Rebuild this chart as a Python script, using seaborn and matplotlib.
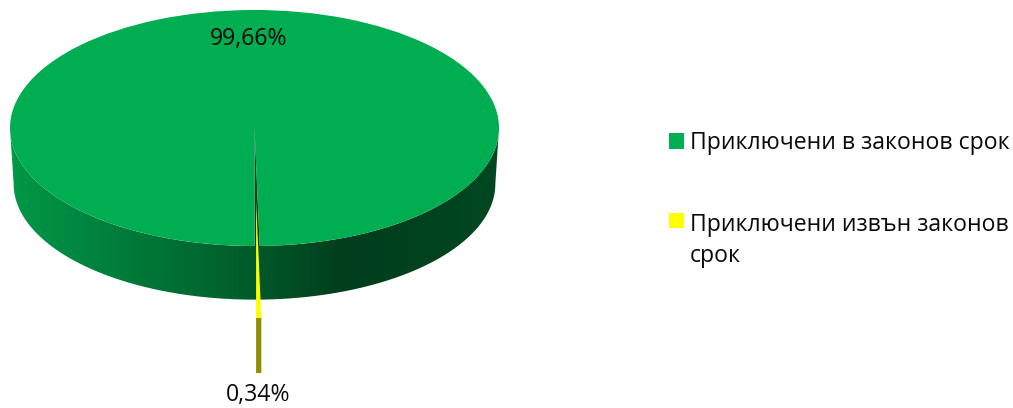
import numpy as np
import matplotlib
matplotlib.use("Agg")
import matplotlib.pyplot as plt
from matplotlib.colors import to_rgb
from matplotlib.patches import Polygon
import seaborn as sns

categories = ["Приключени в законов срок", "Приключени извън законов\nсрок"]
values = [99.66, 0.34]
colors = ["#00AD50", "#FFFF00"]

W, H = 1013, 408
CX, CY, RX, RY = 254.5, 128.0, 244.5, 118.0
DEPTH = 56 / RY
EXPLODE = 0.61

sns.set_theme(style="white")
plt.rcParams["font.family"] = ["Open Sans", "DejaVu Sans"]

fig = plt.figure(figsize=(W / 100, H / 100), dpi=100, facecolor="white")
ax = fig.add_axes([0, 0, 1, 1])

start = 270 + 360 * values[1] / sum(values)

# dark base shows through the slit left by the pulled-out slice
base, _ = ax.pie(values, colors=["none", "#00401F"], startangle=start, radius=1,
                 center=(0, 0), frame=False, wedgeprops=dict(linewidth=0))
wedges, _ = ax.pie(values, colors=colors, startangle=start, radius=1, center=(0, 0),
                   explode=[0, EXPLODE], frame=False, wedgeprops=dict(linewidth=0))
for w in base:
    w.set_zorder(3)
wedges[0].set_zorder(4)
wedges[1].set_zorder(7)

# side wall of the main slice: gradient clipped to the wall outline
pos = [-1.0, -0.55, -0.1, 0.35, 0.7, 1.0]
shade = [0.88, 0.72, 0.56, 0.36, 0.38, 0.42]
base_rgb = np.array(to_rgb(colors[0]))
gx = np.linspace(-1, 1, 512)
grad = (np.interp(gx, pos, shade)[None, :, None] * base_rgb[None, None, :]).clip(0, 1)
th = np.radians(np.linspace(180, 360, 241))
SHRINK = 0.985
outline = np.column_stack([
    np.r_[np.cos(th), SHRINK * np.cos(th[::-1])],
    np.r_[np.sin(th), 0.98 * np.sin(th[::-1]) - DEPTH + 0.0],
])
wall = Polygon(outline, closed=True, transform=ax.transData, facecolor="none", edgecolor="none")
ax.add_patch(wall)
img = ax.imshow(grad, extent=(-1, 1, -1 - DEPTH, 0.05), aspect="auto", zorder=2,
                interpolation="bilinear", origin="upper")
img.set_clip_path(wall)

# side wall of the pulled-out slice
mid = np.radians((wedges[1].theta1 + wedges[1].theta2) / 2)
dx, dy = EXPLODE * np.cos(mid), EXPLODE * np.sin(mid)
th2 = np.radians(np.linspace(wedges[1].theta1, wedges[1].theta2, 8))
xs, ys = np.cos(th2) + dx, np.sin(th2) + dy
ax.fill(np.r_[xs, xs[::-1]], np.r_[ys, ys[::-1] - 55 / RY], color="#8F8F00", lw=0, zorder=6)

ax.set_aspect("auto")
ax.set_xlim(-CX / RX, (W - CX) / RX)
ax.set_ylim(-(H - CY) / RY, CY / RY)
ax.axis("off")


def px(x, y):
    return (x - CX) / RX, (CY - y) / RY


fmt = lambda v: f"{v:.2f}".replace(".", ",") + "%"
FS = 16.6
ax.text(*px(249, 39.5), fmt(values[0]), ha="center", va="center", fontsize=FS, color="#0A0A0A", zorder=9)
ax.text(*px(258, 407), fmt(values[1]), ha="center", va="bottom", fontsize=FS, color="#0A0A0A", zorder=9)

leg = ax.legend(wedges, categories, loc="upper left",
                bbox_to_anchor=(669 / W, 1 - 131 / H), bbox_transform=fig.transFigure,
                frameon=False, fontsize=FS, handlelength=0.65, handleheight=0.65,
                handletextpad=0.25, labelspacing=2.5, borderpad=0, borderaxespad=0,
                labelcolor="#0A0A0A")
leg.get_texts()[1].set_linespacing(1.4)
leg.legend_handles[1].set_y(leg.legend_handles[1].get_y() + 15)

fig.savefig("out.png", dpi=100, facecolor="white")
